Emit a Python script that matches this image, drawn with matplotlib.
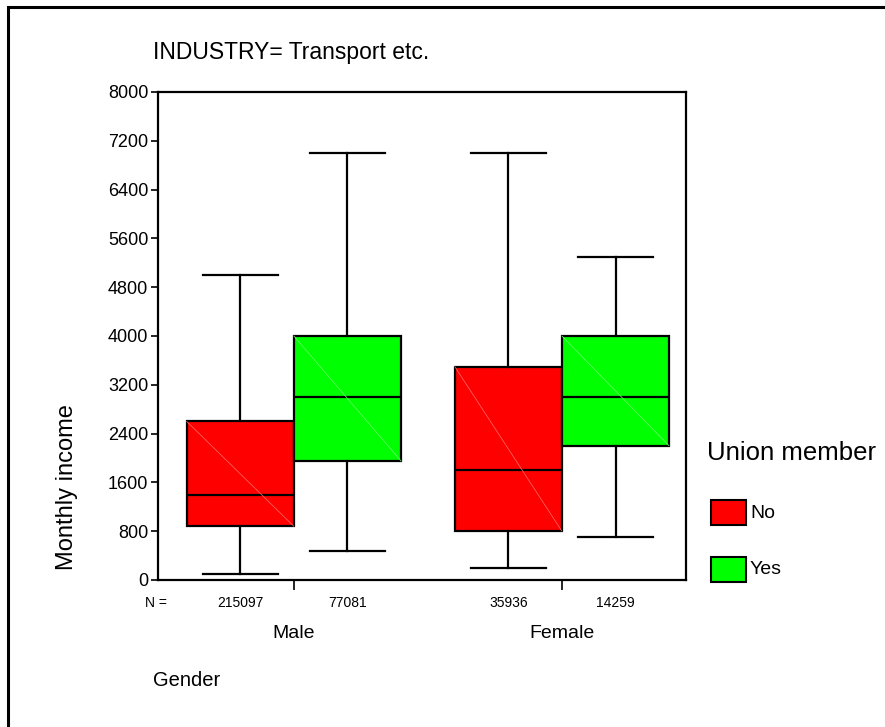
import matplotlib.pyplot as plt
from matplotlib.patches import Rectangle

plt.rcParams['font.family'] = ['Liberation Sans', 'DejaVu Sans']

# Monthly income by gender and union membership (industry: transport)
genders = ['Male', 'Female']
members = ['No', 'Yes']
colors = ['#ff0000', '#00ff00']
diag_colors = ['#ff7070', '#70ff70']

counts = [[215097, 77081], [35936, 14259]]
whislo = [[100, 480], [200, 700]]
q1 = [[880, 1950], [800, 2200]]
med = [[1400, 3000], [1800, 3000]]
q3 = [[2600, 4000], [3500, 4000]]
whishi = [[5000, 7000], [7000, 5300]]

yticks = [0, 800, 1600, 2400, 3200, 4000, 4800, 5600, 6400, 7200, 8000]

W, H = 885, 727
fig = plt.figure(figsize=(W / 100, H / 100), dpi=100)
ax = fig.add_axes([158 / W, 1 - 580 / H, (686 - 158) / W, (580 - 92) / H])
ax.set_xlim(-0.507, 1.463)
ax.set_ylim(0, 8000)

box_w = 0.4
offsets = [-0.2, 0.2]
for g in range(len(genders)):
    for m in range(len(members)):
        pos = g + offsets[m]
        stats = [dict(med=med[g][m], q1=q1[g][m], q3=q3[g][m],
                      whislo=whislo[g][m], whishi=whishi[g][m])]
        ax.bxp(stats, positions=[pos], widths=box_w, capwidths=0.28,
               showfliers=False, patch_artist=True, manage_ticks=False,
               boxprops=dict(facecolor=colors[m], edgecolor='black', linewidth=1.6),
               medianprops=dict(color='black', linewidth=1.6),
               whiskerprops=dict(color='black', linewidth=1.6),
               capprops=dict(color='black', linewidth=1.6))
        # faint diagonal across each box
        ax.plot([pos - box_w / 2, pos + box_w / 2], [q3[g][m], q1[g][m]],
                color=diag_colors[m], linewidth=0.5, zorder=2.5)
        # group sizes under the axis
        ax.annotate(str(counts[g][m]), xy=(pos, 0), xycoords='data',
                    xytext=(0, -23), textcoords='offset pixels',
                    ha='center', va='center', fontsize=10, annotation_clip=False)

ax.set_xlim(-0.507, 1.463)
ax.set_ylim(0, 8000)
ax.set_yticks(yticks)
ax.set_yticklabels([str(t) for t in yticks], fontsize=13)
ax.set_xticks([0, 1])
ax.set_xticklabels([])
ax.tick_params(axis='y', direction='out', length=5, width=1.2, pad=2)
ax.tick_params(axis='x', direction='out', length=7, width=1.2)
for s in ax.spines.values():
    s.set_linewidth(1.6)

for g, name in enumerate(genders):
    ax.annotate(name, xy=(g, 0), xycoords='data', xytext=(0, -53),
                textcoords='offset pixels', ha='center', va='center',
                fontsize=14, annotation_clip=False)

fig.text(145 / W, 1 - 603 / H, 'N =', ha='left', va='center', fontsize=10)
fig.text(153 / W, 1 - 52 / H, 'INDUSTRY= Transport etc.', ha='left',
         va='center', fontsize=16.5)
fig.text(67 / W, 1 - 487 / H, 'Monthly income', ha='center', va='center',
         rotation=90, fontsize=17)
fig.text(153 / W, 1 - 680 / H, 'Gender', ha='left', va='center', fontsize=14.5)

# legend
fig.text(707 / W, 1 - 453 / H, 'Union member', ha='left', va='center', fontsize=18.5)
for i, lab in enumerate(members):
    y_top = [500, 557][i]
    fig.patches.append(Rectangle((711 / W, 1 - (y_top + 25) / H), 35 / W, 25 / H,
                                 transform=fig.transFigure, facecolor=colors[i],
                                 edgecolor='black', linewidth=1.5))
    fig.text(750 / W, 1 - (y_top + 13) / H, lab, ha='left', va='center', fontsize=14)

# outer frame
fig.patches.append(Rectangle((8 / W, -0.1), 1.2, 1 - 7 / H + 0.1,
                             transform=fig.transFigure, fill=False,
                             edgecolor='black', linewidth=2.2))

fig.savefig('out.png', dpi=100)
